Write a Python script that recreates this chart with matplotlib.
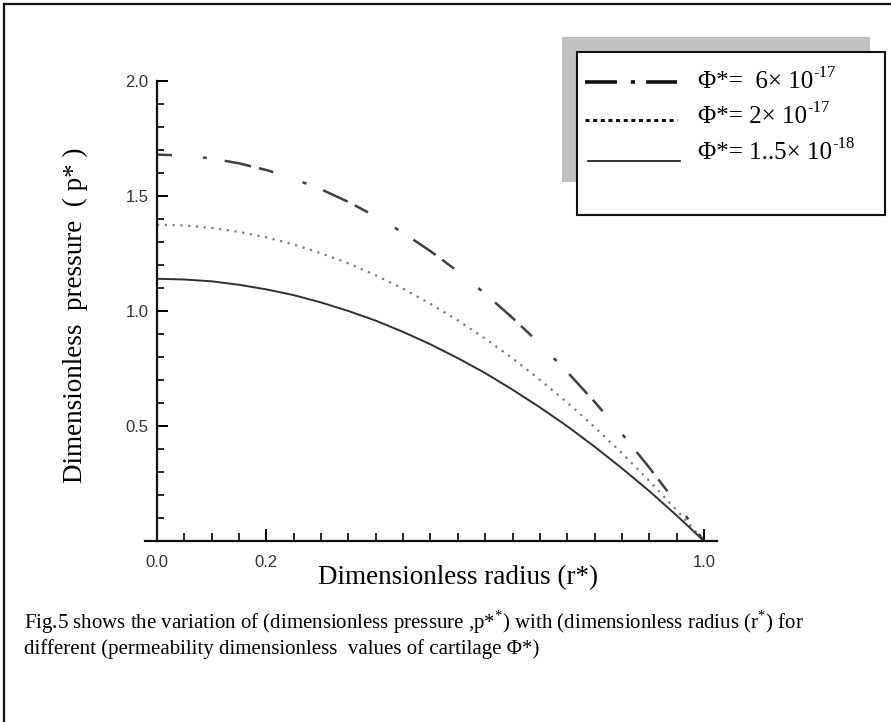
import numpy as np
import matplotlib.pyplot as plt
from matplotlib.patches import Rectangle

plt.rcParams['font.family'] = ['Liberation Serif', 'DejaVu Serif']
plt.rcParams['mathtext.fontset'] = 'custom'
plt.rcParams['mathtext.rm'] = 'Liberation Serif'
plt.rcParams['lines.scale_dashes'] = False

# dimensionless radius and pressure for three permeability values
r_star = [0.00, 0.05, 0.10, 0.15, 0.20, 0.25, 0.30, 0.35, 0.40, 0.45, 0.50,
          0.55, 0.60, 0.65, 0.70, 0.75, 0.80, 0.85, 0.90, 0.95, 1.00]
p_phi_6e17 = [1.680, 1.676, 1.663, 1.642, 1.613, 1.575, 1.529, 1.474, 1.411, 1.340, 1.260,
              1.172, 1.075, 0.970, 0.857, 0.735, 0.605, 0.466, 0.319, 0.164, 0.000]
p_phi_2e17 = [1.375, 1.372, 1.361, 1.344, 1.320, 1.289, 1.251, 1.207, 1.155, 1.097, 1.031,
              0.959, 0.880, 0.794, 0.701, 0.602, 0.495, 0.382, 0.261, 0.134, 0.000]
p_phi_15e18 = [1.140, 1.137, 1.129, 1.114, 1.094, 1.069, 1.037, 1.000, 0.958, 0.909, 0.855,
               0.795, 0.730, 0.658, 0.581, 0.499, 0.410, 0.316, 0.217, 0.111, 0.000]

legend_base = ['Φ*=  6× 10', 'Φ*= 2× 10', 'Φ*= 1..5× 10']
legend_exp = ['-17', '-17', '-18']
x_ticks = [0.0, 0.2, 1.0]
x_ticklabels = ['0.0', '0.2', '1.0']
y_ticks = [0.5, 1.0, 1.5, 2.0]
y_ticklabels = ['0.5', '1.0', '1.5', '2.0']

W, H = 891, 722
fig = plt.figure(figsize=(W / 100, H / 100), dpi=100)

# plot area in pixels: r=0 at x=157, r=1 at x=704; p=0 at y=541, p=2 at y=81
px0, px1 = 145, 717
sx = 547.0
ax = fig.add_axes([px0 / W, (H - 541) / H, (px1 - px0) / W, 460 / H])
ax.set_xlim((px0 - 157) / sx, (px1 - 157) / sx)
ax.set_ylim(0, 2.0)
ax.patch.set_alpha(0)

ax.plot(r_star, p_phi_6e17, color='#404040', lw=1.8,
        dashes=(10.8, 22.3, 2.9, 13.0, 19.4, 5.8))
ax.plot(r_star, p_phi_2e17, color='#7a7a7a', lw=1.6, dashes=(1.6, 4.0))
ax.plot(r_star, p_phi_15e18, color='#303030', lw=1.4)

for s in ['top', 'right']:
    ax.spines[s].set_visible(False)
ax.spines['left'].set_position(('data', 0))
for s in ['left', 'bottom']:
    ax.spines[s].set_linewidth(1.6)
    ax.spines[s].set_color('#111111')

tick_font = dict(family=['Liberation Sans', 'DejaVu Sans'], size=12)
ax.set_xticks(x_ticks)
ax.set_xticklabels(x_ticklabels, fontdict=tick_font, color='#3c3028')
ax.set_xticks([v for v in np.arange(0.05, 1.0, 0.05) if abs(v - 0.2) > 1e-6], minor=True)
ax.set_yticks(y_ticks)
ax.set_yticklabels(y_ticklabels, fontdict=tick_font, color='#3c3028')
ax.set_yticks([v for v in np.arange(0.1, 2.0, 0.1) if abs(v * 2 - round(v * 2)) > 1e-6], minor=True)
ax.tick_params(axis='x', which='major', direction='in', length=9, width=1.4, pad=10)
ax.tick_params(axis='x', which='minor', direction='in', length=6, width=1.2)
ax.tick_params(axis='y', which='major', direction='in', length=8, width=1.4, pad=6)
ax.tick_params(axis='y', which='minor', direction='in', length=5, width=1.2)

# overlay in pixel coordinates for frame, legend, labels and caption
ov = fig.add_axes([0, 0, 1, 1], zorder=5)
ov.set_xlim(0, W)
ov.set_ylim(H, 0)
ov.axis('off')

ov.plot([4, W], [4, 4], color='#111111', lw=1.6)
ov.plot([4, 4], [4, H], color='#111111', lw=1.6)

ov.text(458, 578, 'Dimensionless radius (r*)', fontsize=19.5, ha='center', va='center')
ov.text(75, 315, 'Dimensionless  pressure  ( p* )', fontsize=19.5, ha='center',
        va='center', rotation=90)

ov.text(24, 622, 'Fig.5 shows the variation of (dimensionless pressure ,p*$^{\\mathregular{*}}$) '
        'with (dimensionless radius (r$^{\\mathregular{*}}$) for', fontsize=15, va='center')
ov.text(24, 649, 'different (permeability dimensionless  values of cartilage Φ*)',
        fontsize=15, va='center')

# legend with offset grey shadow
ov.add_patch(Rectangle((562, 37), 308, 145, facecolor='#c0c0c0', edgecolor='none'))
ov.add_patch(Rectangle((577, 52), 308, 163, facecolor='white', edgecolor='#111111', lw=1.5))
ov.plot([585, 677], [82, 82], color='#111111', lw=2.6, dashes=(23, 10, 3, 8, 23, 10))
ov.plot([585, 677], [120, 120], color='#111111', lw=2.2, dashes=(2.9, 2.6))
ov.plot([588, 680], [161, 161], color='#111111', lw=1.2)
for yb, base, ex in zip([88, 123, 159], legend_base, legend_exp):
    t = ov.text(698, yb, base, fontsize=18, va='baseline')
    ov.annotate(ex, xy=(1, 0.55), xycoords=t, fontsize=12, va='bottom', ha='left')

fig.savefig('out.png', dpi=100)
